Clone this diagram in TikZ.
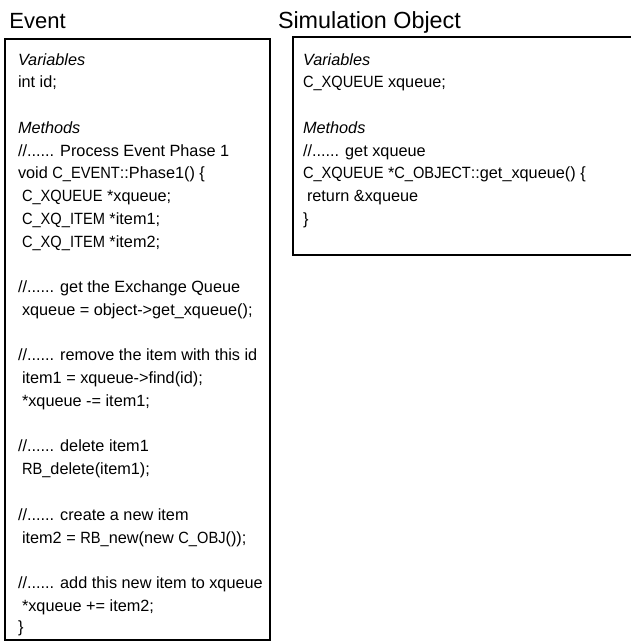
\documentclass[tikz,border=0pt]{standalone}
\usepackage{fontspec}
\setmainfont{Liberation Sans}
% upper-case identifiers are set a little narrower than the rest of the code
\newfontfamily\idfont[FakeStretch=0.9]{Liberation Sans}
\newcommand{\ident}[1]{{\idfont #1}}
\begin{document}
\begin{tikzpicture}[x=0.75pt,y=-0.75pt,
  every node/.style={inner sep=0pt,outer sep=0pt},
  code/.style={anchor=base west,font=\fontsize{12.2}{14}\selectfont},
  section/.style={code,font=\fontsize{12.2}{14}\selectfont\itshape},
  heading/.style={anchor=base west,font=\fontsize{16.5}{19}\selectfont},
  classbox/.style={draw,line width=1.5pt,rectangle}]
\useasboundingbox (0,0) rectangle (631,643);

% class outlines
\node[classbox,minimum width=198.75pt,minimum height=450.75pt] (eventbox) at (137.5,339.5) {};
\node[classbox,minimum width=255pt,minimum height=163.5pt] (objbox) at (463,146) {};

% class titles
\node[heading] (eventtitle) at (9.5,28) {Event};
\node[heading,font=\fontsize{17.5}{20}\selectfont] (objtitle) at (278,28) {Simulation Object};

% Event class body
\node[section] (evvar)  at (18,65)    {Variables};
\node[code]    (evid)   at (18,87.8)  {int id;};
\node[section] (evmeth) at (18,133.3) {Methods};
\node[code]    (evc1)   at (18,156.0) {//...... Process Event Phase 1};
\node[code]    (evfn)   at (18,178.8) {void \ident{C\_EVENT}::Phase1() \{};
\node[code]    (evd1)   at (22,201.6) {\ident{C\_XQUEUE} *xqueue;};
\node[code]    (evd2)   at (22,224.3) {\ident{C\_XQ\_ITEM} *item1;};
\node[code]    (evd3)   at (22,247.1) {\ident{C\_XQ\_ITEM} *item2;};
\node[code]    (evc2)   at (18,292.6) {//...... get the Exchange Queue};
\node[code]    (evs1)   at (22,315.4) {xqueue = object->get\_xqueue();};
\node[code]    (evc3)   at (18,360.9) {//...... remove the item with this id};
\node[code]    (evs2)   at (22,383.6) {item1 = xqueue->find(id);};
\node[code]    (evs3)   at (22,406.4) {*xqueue -= item1;};
\node[code]    (evc4)   at (18,451.9) {//...... delete item1};
\node[code]    (evs4)   at (22,474.7) {\ident{RB\_}delete(item1);};
\node[code]    (evc5)   at (18,520.2) {//...... create a new item};
\node[code]    (evs5)   at (22,543.0) {item2 = \ident{RB\_}new(new \ident{C\_OBJ}());};
\node[code]    (evc6)   at (18,588.5) {//...... add this new item to xqueue};
\node[code]    (evs6)   at (22,611.2) {*xqueue += item2;};
\node[code]    (evend)  at (18,632.0) {\}};

% Simulation Object class body
\node[section] (obvar)  at (303,65)    {Variables};
\node[code]    (obq)    at (303,87.8)  {\ident{C\_XQUEUE} xqueue;};
\node[section] (obmeth) at (303,133.3) {Methods};
\node[code]    (obc1)   at (303,156.0) {//...... get xqueue};
\node[code]    (obfn)   at (303,178.8) {\ident{C\_XQUEUE} *\ident{C\_OBJECT}::get\_xqueue() \{};
\node[code]    (obret)  at (307,201.6) {return \&xqueue};
\node[code]    (obend)  at (303,224.3) {\}};
\end{tikzpicture}
\end{document}
